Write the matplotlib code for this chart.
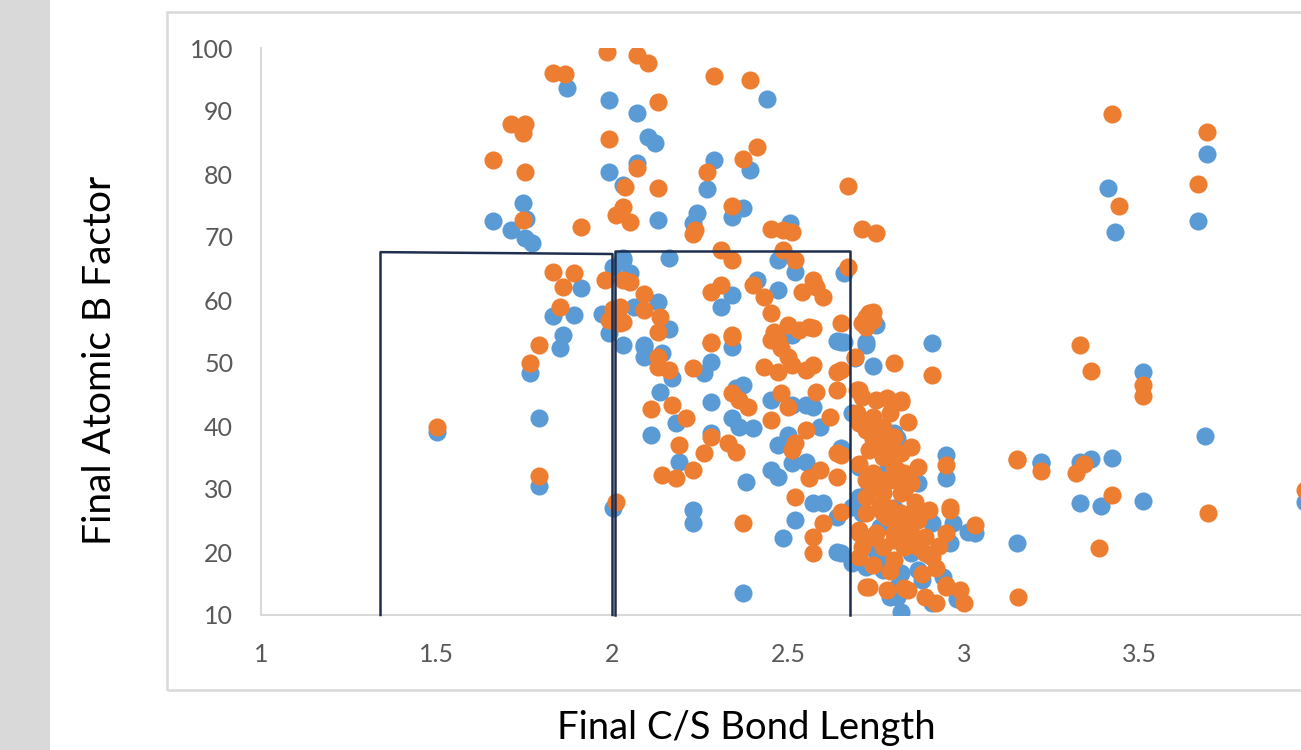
import numpy as np
import matplotlib
matplotlib.use("Agg")
import matplotlib.pyplot as plt
from matplotlib.patches import Rectangle

# series 1 (blue): final C/S bond length vs final atomic B factor
blue_x = [1.50, 1.79, 1.79, 1.765, 1.85, 2.00,
          1.87, 1.99, 2.07, 2.10, 2.12, 1.99, 2.07, 2.03,
          1.745, 1.755, 1.66, 1.71, 1.75, 1.77,
          2.13, 1.91, 2.03, 2.00, 1.83, 1.89, 1.97, 1.86, 1.99,
          2.44, 2.29, 2.39, 2.27, 2.24, 2.23, 2.37, 2.34, 2.505,
          2.16, 2.47, 2.52, 2.66, 2.03, 2.05, 2.13, 2.16, 2.06, 2.03, 2.09,
          2.34, 2.31, 2.41, 2.47, 2.66, 2.75, 2.72, 2.51,
          2.09, 2.09, 2.14, 2.17, 2.28, 2.26, 2.34, 2.135, 2.18, 2.11, 2.19, 2.28,
          2.28, 2.35, 2.37, 2.34, 2.36, 2.40, 2.38, 2.37, 2.23, 2.23, 2.485,
          2.45, 2.51, 2.55, 2.57, 2.47, 2.50, 2.51, 2.55, 2.59, 2.45, 2.47, 2.65,
          2.64, 2.69, 2.74,
          2.52, 2.57, 2.60, 2.64, 2.64,
          2.65, 2.72, 2.91,
          2.95, 2.95, 2.87, 2.82, 3.22, 2.70, 2.70, 2.68, 2.80, 2.91, 2.96, 3.03,
          2.72, 2.77, 2.82, 2.87, 2.91, 2.79, 2.68, 2.65, 2.71, 2.85, 2.76, 2.80,
          2.75, 2.84, 2.90, 2.73, 2.78, 2.98, 2.94, 2.81,
          2.81, 2.97, 2.79, 2.88, 2.81, 2.76, 2.68, 3.01,
          3.69, 3.665, 3.41, 3.43, 3.51, 3.685, 3.22, 3.33, 3.36, 3.42,
          3.33, 3.39, 3.51, 3.97, 3.15]
blue_y = [39.0, 30.5, 41.3, 48.4, 52.4, 27.0,
          93.6, 91.7, 89.7, 85.9, 84.9, 80.3, 81.7, 78.2,
          75.4, 72.9, 72.5, 71.1, 69.8, 69.0,
          72.7, 61.9, 66.3, 65.2, 57.5, 57.6, 57.8, 54.4, 54.8,
          91.9, 82.2, 80.6, 77.6, 73.8, 72.2, 74.6, 73.2, 72.2,
          66.7, 66.3, 64.4, 64.3, 66.7, 64.3, 59.7, 55.4, 58.9, 52.9, 52.9,
          60.8, 58.9, 63.2, 61.6, 53.3, 56.0, 53.3, 54.4,
          52.5, 51.0, 51.6, 47.6, 50.2, 48.4, 52.5, 45.4, 40.5, 38.6, 34.3, 38.9,
          43.8, 46.0, 46.5, 41.3, 39.8, 39.7, 31.1, 13.5, 26.7, 24.6, 22.2,
          44.1, 43.3, 43.3, 43.0, 37.0, 38.6, 34.1, 34.3, 39.8, 33.0, 31.9, 36.5,
          53.5, 50.8, 49.5,
          25.1, 27.8, 27.8, 25.6, 20.0,
          53.3, 52.9, 53.2,
          35.4, 31.7, 31.0, 10.5, 34.1, 33.5, 28.7, 42.1, 38.9, 24.6, 21.4, 23.0,
          17.6, 17.1, 16.7, 17.1, 11.9, 12.9, 18.3, 19.8, 26.2, 19.8, 24.0, 27.0,
          20.0, 22.5, 19.5, 30.0, 33.0, 12.5, 16.0, 14.5,
          38.1, 24.6, 17.6, 15.6, 12.9, 18.7, 27.1, 23.2,
          83.2, 72.5, 77.7, 70.8, 48.5, 38.4, 34.3, 34.3, 34.8, 34.9,
          27.8, 27.3, 28.1, 27.9, 21.4]

# series 2 (orange)
orange_x = [1.50, 1.79, 1.765, 1.79, 2.01,
            1.985, 2.07, 2.10, 1.83, 1.865, 1.71, 1.75, 1.745, 1.66, 1.75, 1.99,
            2.07, 2.035, 2.13, 1.745, 1.91, 2.03, 2.01, 2.05,
            1.83, 1.89, 1.86, 1.98, 2.03, 2.05, 2.09, 1.85, 1.99, 2.03, 2.00,
            2.29, 2.39, 2.13, 2.41, 2.37, 2.27, 2.67, 2.71, 2.75, 2.45, 2.485,
            2.51, 2.235, 2.23, 2.34,
            2.31, 2.34, 2.485, 2.52, 2.67, 2.09, 2.135, 2.13, 2.02, 2.02,
            2.28, 2.31, 2.40, 2.43, 2.45, 2.54, 2.58, 2.60, 2.57, 2.65, 2.71,
            2.74, 2.72, 2.50, 2.56, 2.46, 2.47, 2.34, 2.28, 2.57, 2.53,
            2.13, 2.13, 2.16, 2.23, 2.28, 2.34, 2.11, 2.17, 2.21, 2.19, 2.14,
            2.18, 2.23, 2.26, 2.28, 2.33, 2.35, 2.34, 2.36, 2.385, 2.37,
            2.43, 2.47, 2.45, 2.48, 2.50, 2.51, 2.55, 2.57, 2.48, 2.50, 2.58,
            2.62, 2.45, 2.51, 2.52, 2.55, 2.56, 2.59, 2.64, 2.65, 2.64, 2.64,
            2.52, 2.60, 2.57, 2.57, 2.65, 2.65, 2.64,
            2.73, 2.72, 2.74, 2.69, 2.80, 2.91,
            2.695, 2.71, 2.75, 2.695, 2.74, 2.82, 2.84, 2.72, 2.77, 2.80, 2.85,
            2.73, 2.77, 2.82, 2.87, 2.80, 2.74, 2.72, 2.77, 2.82, 2.72, 2.77,
            2.82, 2.72, 2.77, 2.82, 2.87, 2.70, 2.75, 2.80, 2.85, 2.89, 2.71,
            2.77, 2.83, 2.87, 2.91, 2.72, 2.78, 2.84, 2.89, 2.95, 2.99, 3.00,
            2.90, 2.96, 2.95, 3.03, 3.15, 3.155, 2.95,
            2.74, 2.79, 2.70, 2.76, 2.81, 2.86, 2.74, 2.79, 2.88, 2.92, 2.83,
            2.78, 2.93,
            2.70, 2.82, 2.70, 2.76, 2.79, 2.74, 2.79, 2.83, 2.78, 2.84, 2.70,
            2.74, 2.80, 2.96, 2.70, 2.80, 2.89, 2.73, 2.83, 2.92, 2.95, 2.76,
            2.81, 2.86, 2.75, 2.79, 2.85,
            3.42, 3.69, 3.665, 3.44, 3.33, 3.36, 3.51, 3.51, 3.15, 3.22, 3.32,
            3.34, 3.42, 3.695, 3.97, 3.385]
orange_y = [39.8, 32.0, 50.0, 52.9, 28.0,
            99.4, 98.9, 97.6, 96.0, 95.9, 88.0, 88.0, 86.5, 82.2, 80.3, 85.5,
            81.0, 78.0, 77.8, 72.7, 71.6, 74.8, 73.5, 72.4,
            64.4, 64.3, 62.0, 63.2, 63.2, 62.9, 61.0, 58.9, 56.8, 56.5, 58.5,
            95.6, 94.9, 91.4, 84.3, 82.4, 80.3, 78.1, 71.3, 70.6, 71.3, 71.1,
            70.8, 71.1, 70.5, 74.9,
            67.9, 66.3, 67.9, 66.3, 65.2, 58.4, 57.3, 54.9, 58.9, 56.3,
            61.3, 62.4, 62.4, 60.5, 58.0, 61.3, 62.0, 60.5, 63.2, 56.3, 56.3,
            58.1, 57.3, 56.0, 55.7, 54.9, 53.7, 54.4, 53.3, 55.6, 55.2,
            51.0, 49.4, 48.9, 49.2, 53.2, 54.1, 42.7, 43.3, 41.3, 37.0, 32.2,
            31.7, 33.0, 35.7, 38.3, 37.3, 35.9, 45.2, 44.1, 43.0, 24.6,
            49.4, 48.6, 53.7, 52.4, 51.0, 49.7, 48.9, 49.7, 45.2, 43.0, 45.4,
            41.4, 41.0, 36.2, 37.3, 39.4, 31.7, 33.0, 31.9, 35.4, 45.7, 48.6,
            28.7, 24.6, 22.4, 19.8, 26.3, 48.9, 35.7,
            57.9, 55.7, 56.8, 51.0, 50.0, 48.1,
            45.7, 44.6, 44.1, 42.1, 41.4, 43.8, 40.6, 39.4, 39.8, 38.3, 36.7,
            36.2, 35.1, 35.7, 33.5, 33.5, 32.5, 31.4, 31.4, 31.4, 28.7, 29.4,
            29.4, 26.2, 26.2, 26.2, 25.1, 23.5, 23.0, 23.0, 23.0, 22.4, 20.8,
            20.8, 20.8, 20.8, 19.2, 14.4, 14.0, 14.0, 12.9, 14.4, 14.0, 11.9,
            26.7, 26.7, 23.0, 24.3, 34.6, 12.9, 33.8,
            38.0, 42.0, 34.0, 27.5, 24.5, 28.0, 18.0, 17.0, 16.5, 17.5, 32.5,
            44.5, 21.0,
            45.7, 44.1, 40.5, 39.4, 36.2, 31.9, 31.4, 29.8, 25.6, 25.1, 23.0,
            22.4, 21.9, 27.1, 19.2, 18.7, 19.8, 14.4, 14.3, 11.9, 14.8, 37.5,
            33.0, 27.0, 30.5, 27.0, 31.0,
            89.5, 86.7, 78.4, 75.0, 52.9, 48.7, 46.5, 44.8, 34.8, 32.9, 32.6,
            34.0, 29.0, 26.2, 29.8, 20.7]

# hand-drawn boxes on the slide (left, right, top-left, top-right)
box1 = (1.34, 2.00, 67.6, 67.3)
box2 = (2.007, 2.676, 67.8, 67.8)

x_ticks = [1, 1.5, 2, 2.5, 3, 3.5]
x_labels = ["1", "1.5", "2", "2.5", "3", "3.5"]
y_ticks = list(range(10, 101, 10))

fig = plt.figure(figsize=(13.01, 7.5), dpi=100)

# grey strip at the left of the slide
fig.patches.append(Rectangle((0, 0), 50 / 1301, 1, transform=fig.transFigure,
                             facecolor="#d9d9d9", edgecolor="none", zorder=0))
# chart frame
fig.patches.append(Rectangle((167 / 1301, 60 / 750), 1.0, 678 / 750,
                             transform=fig.transFigure, facecolor="none",
                             edgecolor="#d9d9d9", linewidth=1.8, zorder=0))

ax = fig.add_axes([261 / 1301, 135 / 750, 1054.5 / 1301, 567 / 750])
ax.set_zorder(2)
ax.set_facecolor("none")

ax.scatter(blue_x, blue_y, s=170, color="#5b9bd5", linewidths=0, zorder=3)
ax.scatter(orange_x, orange_y, s=170, color="#ed7d31", linewidths=0, zorder=4)

navy = "#1f2e4e"
for left, right, tl, tr in (box1, box2):
    ax.plot([left, left, right, right], [10, tl, tr, 10], color=navy,
            linewidth=1.8, zorder=5, clip_on=False)

ax.set_xlim(1, 4)
ax.set_ylim(10, 100)
ax.set_xticks(x_ticks)
ax.set_xticklabels(x_labels)
ax.set_yticks(y_ticks)

for side in ("top", "right"):
    ax.spines[side].set_visible(False)
for side in ("left", "bottom"):
    ax.spines[side].set_color("#d9d9d9")
    ax.spines[side].set_linewidth(1.5)

ax.tick_params(axis="both", length=0, colors="#595959", labelsize=18)
ax.tick_params(axis="y", pad=20)
ax.tick_params(axis="x", pad=20)
for lab in ax.get_xticklabels() + ax.get_yticklabels():
    lab.set_fontfamily("Lato")

fig.text(746 / 1301, 1 - 728 / 750, "Final C/S Bond Length", ha="center",
         va="center", fontsize=27.5, family="Lato", color="black")
fig.text(100 / 1301, 1 - 360 / 750, "Final Atomic B Factor", ha="center",
         va="center", rotation=90, fontsize=28, family="Lato", color="black")

fig.savefig("out.png", dpi=100)
